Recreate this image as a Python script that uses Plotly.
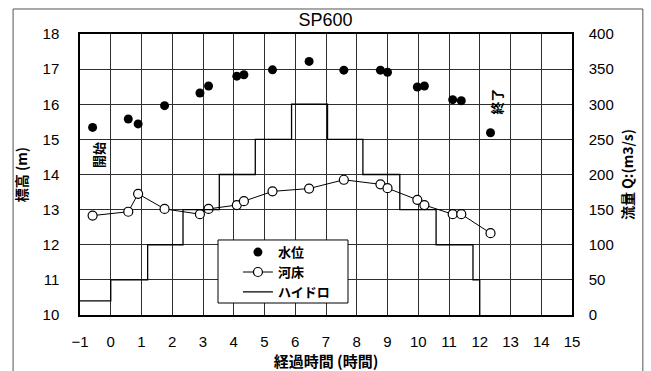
import plotly.graph_objects as go

# Elapsed time (hours) of each survey
hours = [-0.59, 0.57, 0.89, 1.75, 2.90, 3.18, 4.10, 4.33, 5.26, 6.45,
         7.58, 8.77, 9.00, 9.97, 10.20, 11.12, 11.40, 12.35]
# Water level (m)
water_level = [15.34, 15.58, 15.44, 15.96, 16.32, 16.52, 16.80, 16.84, 16.98, 17.22,
               16.97, 16.97, 16.91, 16.49, 16.52, 16.13, 16.10, 15.19]
# River bed elevation (m)
bed_level = [12.83, 12.94, 13.45, 13.02, 12.87, 13.02, 13.13, 13.24, 13.52, 13.60,
             13.85, 13.72, 13.61, 13.28, 13.13, 12.87, 12.87, 12.33]

# Stepped hydrograph: start time of each step and discharge Q (m3/s)
hydro_t = [-1, 0, 1.2, 2.35, 3.53, 4.7, 5.88, 7.05, 8.2, 9.4, 10.58, 11.78, 12.0]
hydro_q = [20, 50, 100, 150, 200, 250, 300, 250, 200, 150, 100, 50, 0]

x_ticks = list(range(-1, 16))

FONT = "Liberation Sans, Arial, Noto Sans CJK JP"
CJK = "Noto Sans CJK JP, Liberation Sans"

fig = go.Figure()

fig.add_trace(go.Scatter(
    x=hours, y=water_level, name="水位", mode="markers",
    marker=dict(symbol="circle", size=9, color="black"),
))
fig.add_trace(go.Scatter(
    x=hours, y=bed_level, name="河床", mode="lines+markers",
    line=dict(color="black", width=1),
    marker=dict(symbol="circle", size=9, color="white",
                line=dict(color="black", width=1.2)),
))
fig.add_trace(go.Scatter(
    x=hydro_t, y=hydro_q, name="ハイドロ", mode="lines", yaxis="y2",
    line=dict(color="black", width=1.3, shape="hv"),
))

axis_common = dict(
    showline=True, linecolor="black", linewidth=1.5, mirror=True,
    ticks="", tickfont=dict(family=FONT, size=15, color="black"),
    zeroline=False, automargin=False,
)

fig.update_layout(
    width=651, height=371,
    margin=dict(l=80, r=79, t=34, b=56),
    paper_bgcolor="white", plot_bgcolor="white",
    title=dict(text="SP600", x=0.5, xanchor="center", y=0.948, yanchor="middle",
               font=dict(family=FONT, size=18, color="black"), automargin=False),
    xaxis=dict(
        range=[-1, 15], tickvals=x_ticks, showgrid=True,
        gridcolor="#2e2e2e", gridwidth=1,
        title=dict(text="経過時間 (時間)", standoff=10,
                   font=dict(family=CJK, size=15, color="black", weight="bold")),
        ticklabelstandoff=12,
        **axis_common,
    ),
    yaxis=dict(
        range=[10, 18], dtick=1, showgrid=True,
        gridcolor="#2e2e2e", gridwidth=1,
        title=dict(text="標高 (m)", standoff=12,
                   font=dict(family=CJK, size=14, color="black", weight="bold")),
        ticklabelstandoff=16,
        **axis_common,
    ),
    yaxis2=dict(
        range=[0, 400], dtick=50, overlaying="y", side="right", showgrid=False,
        title=dict(text="流量 Q:(m3/s)", standoff=10,
                   font=dict(family=CJK, size=14, color="black", weight="bold")),
        ticklabelstandoff=12,
        **axis_common,
    ),
    legend=dict(
        x=0.321, y=0.277, xanchor="left", yanchor="top",
        bgcolor="rgba(0,0,0,0)", borderwidth=0,
        font=dict(family=CJK, size=13, color="black", weight="bold"),
        tracegroupgap=0, itemwidth=30,
    ),
    showlegend=True,
    shapes=[
        # outer frame of the figure
        dict(type="rect", xref="paper", yref="paper",
             x0=-0.136, x1=1.144, y0=-0.25, y1=1.089,
             line=dict(color="#555555", width=1), layer="below"),
        # legend box
        dict(type="rect", xref="paper", yref="paper",
             x0=0.2805, x1=0.5447, y0=0.0427, y1=0.267,
             line=dict(color="black", width=1), fillcolor="white", layer="above"),
    ],
    annotations=[
        dict(x=-0.38, y=14.56, xref="x", yref="y", text="開始", textangle=-90,
             showarrow=False, font=dict(family=CJK, size=13, color="black", weight="bold")),
        dict(x=12.53, y=16.08, xref="x", yref="y", text="終了", textangle=-90,
             showarrow=False, font=dict(family=CJK, size=13, color="black", weight="bold")),
    ],
)

fig.write_html("out.html")
